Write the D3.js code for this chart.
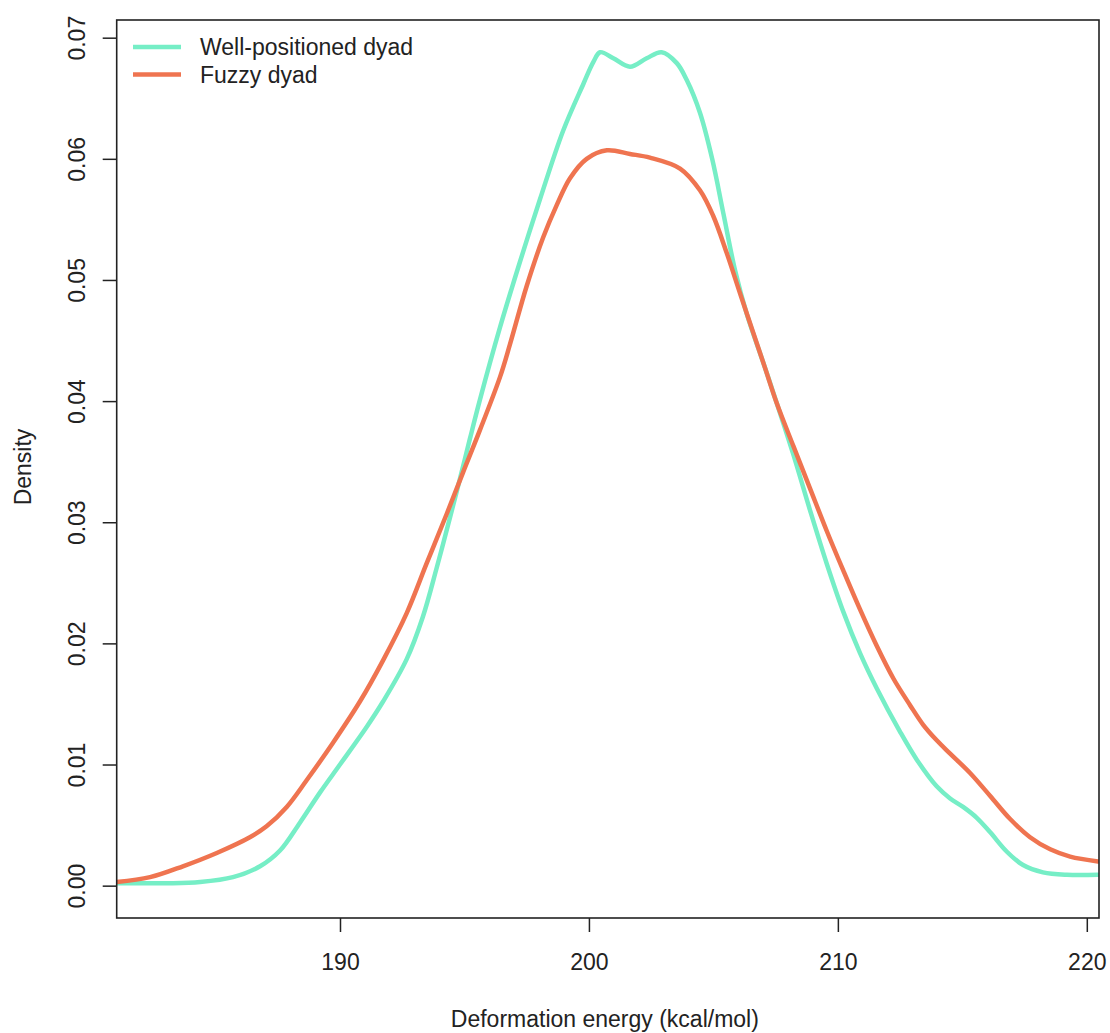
<!DOCTYPE html>
<html>
<head>
<meta charset="utf-8">
<script src="https://cdn.jsdelivr.net/npm/d3@7"></script>
<style>
  html, body { margin: 0; padding: 0; background: #fff; }
  svg { display: block; }
  text { font-family: "Liberation Sans", Arial, Helvetica, sans-serif; fill: #222; }
</style>
</head>
<body>
<svg id="chart" width="1110" height="1033"></svg>
<script>
// Kernel density estimates of deformation energy for two dyad classes
const energyWell = [181.03,183.04,184.38,185.70,186.79,187.59,188.39,189.20,190.0,191.07,191.73,192.68,193.33,193.88,194.42,194.82,195.22,195.62,196.43,197.23,198.04,198.96,199.78,200.18,200.45,200.98,201.65,202.32,202.92,203.53,203.93,204.46,204.95,205.4,205.87,206.34,207.0,207.55,208.21,208.88,209.55,210.22,210.89,211.56,212.5,213.17,213.97,214.51,215.03,215.58,216.12,216.79,217.44,218.24,219.2,220.45];
const densityWell = [0.0002,0.0002,0.0003,0.0007,0.0016,0.0029,0.0052,0.0077,0.0100,0.0131,0.0152,0.0187,0.0222,0.0262,0.0304,0.0336,0.0369,0.0401,0.0461,0.0515,0.0567,0.0623,0.0662,0.0680,0.0688,0.0683,0.0676,0.0683,0.0688,0.0679,0.0665,0.0638,0.0600,0.0555,0.0508,0.0472,0.0432,0.0398,0.0356,0.0310,0.0266,0.0226,0.0192,0.0163,0.0127,0.0104,0.0082,0.0072,0.0065,0.0056,0.0044,0.0028,0.0017,0.0011,0.0009,0.0009];

const energyFuzzy = [181.03,182.37,183.69,185.05,186.38,187.05,187.86,188.66,189.72,190.80,191.73,192.68,193.48,194.29,194.94,195.62,196.43,196.83,197.5,198.16,198.71,199.24,199.91,200.72,201.65,202.45,203.66,204.46,204.99,205.54,206.07,206.59,207.08,207.55,208.21,208.88,209.55,210.22,210.89,211.56,212.23,212.9,213.42,213.97,214.51,215.31,216.12,216.92,217.72,218.53,219.33,220.45];
const densityFuzzy = [0.0003,0.0007,0.0016,0.0027,0.0040,0.0049,0.0065,0.0087,0.0118,0.0152,0.0186,0.0225,0.0266,0.0307,0.0341,0.0376,0.0420,0.0447,0.0495,0.0535,0.0562,0.0584,0.0600,0.0607,0.0604,0.0601,0.0592,0.0574,0.0553,0.0522,0.0489,0.0457,0.0427,0.0398,0.0363,0.0328,0.0293,0.0260,0.0228,0.0198,0.0171,0.0149,0.0133,0.0120,0.0109,0.0093,0.0074,0.0055,0.0040,0.0030,0.0024,0.0020];

const seriesNames = ["Well-positioned dyad", "Fuzzy dyad"];
const seriesColors = ["#76EEC6", "#EF7450"];

const xTicks = [190, 200, 210, 220];
const yTicks = [0, 0.01, 0.02, 0.03, 0.04, 0.05, 0.06, 0.07];

const xTitle = "Deformation energy (kcal/mol)";
const yTitle = "Density";

const fontSize = 23;

// Plot region
const plot = { left: 116.7, right: 1099, top: 20, bottom: 918 };

const x = d3.scaleLinear().domain([181.03, 220.49]).range([plot.left, plot.right]);
const y = d3.scaleLinear().domain([-0.00267, 0.07146]).range([plot.bottom, plot.top]);

const svg = d3.select("#chart");

svg.append("defs").append("clipPath").attr("id", "plotClip")
  .append("rect")
  .attr("x", plot.left).attr("y", plot.top)
  .attr("width", plot.right - plot.left).attr("height", plot.bottom - plot.top);

const series = [
  { name: seriesNames[0], color: seriesColors[0], pts: energyWell.map((e, i) => [e, densityWell[i]]) },
  { name: seriesNames[1], color: seriesColors[1], pts: energyFuzzy.map((e, i) => [e, densityFuzzy[i]]) }
];

const line = d3.line()
  .x(d => x(d[0]))
  .y(d => y(d[1]))
  .curve(d3.curveCatmullRom.alpha(0.5));

svg.append("g").attr("clip-path", "url(#plotClip)")
  .selectAll("path")
  .data(series)
  .join("path")
  .attr("d", d => line(d.pts))
  .attr("fill", "none")
  .attr("stroke", d => d.color)
  .attr("stroke-width", 4.5)
  .attr("stroke-linejoin", "round")
  .attr("stroke-linecap", "round");

// Axes
const xAxis = d3.axisBottom(x).tickValues(xTicks).tickSize(14).tickPadding(22).tickFormat(d3.format("d"));
const gx = svg.append("g").attr("transform", `translate(0,${plot.bottom})`).call(xAxis);
gx.select(".domain").remove();
gx.selectAll(".tick line").attr("stroke", "#222").attr("stroke-width", 1.5);
gx.selectAll(".tick text").attr("font-size", fontSize).attr("fill", "#222")
  .attr("font-family", "'Liberation Sans', Arial, sans-serif");

const yAxis = d3.axisLeft(y).tickValues(yTicks).tickSize(14).tickFormat(d3.format(".2f"));
const gy = svg.append("g").attr("transform", `translate(${plot.left},0)`).call(yAxis);
gy.select(".domain").remove();
gy.selectAll(".tick line").attr("stroke", "#222").attr("stroke-width", 1.5);
gy.selectAll(".tick text")
  .attr("font-size", fontSize).attr("fill", "#222")
  .attr("font-family", "'Liberation Sans', Arial, sans-serif")
  .attr("text-anchor", "middle")
  .attr("dy", 0)
  .attr("x", 0).attr("y", 0)
  .attr("transform", "translate(-32,0) rotate(-90)");

// Frame
svg.append("rect")
  .attr("x", plot.left).attr("y", plot.top)
  .attr("width", plot.right - plot.left).attr("height", plot.bottom - plot.top)
  .attr("fill", "none").attr("stroke", "#222").attr("stroke-width", 1.6);

// Axis titles
svg.append("text")
  .attr("x", (plot.left + plot.right) / 2 - 3).attr("y", 1027)
  .attr("text-anchor", "middle").attr("font-size", fontSize)
  .text(xTitle);

svg.append("text")
  .attr("transform", `translate(31,${(plot.top + plot.bottom) / 2 - 2}) rotate(-90)`)
  .attr("text-anchor", "middle").attr("font-size", fontSize)
  .text(yTitle);

// Legend
const legend = svg.append("g").attr("transform", "translate(133,47)");
const item = legend.selectAll("g").data(series).join("g")
  .attr("transform", (d, i) => `translate(0,${i * 27.5})`);
item.append("line")
  .attr("x1", 0).attr("x2", 48).attr("y1", 0).attr("y2", 0)
  .attr("stroke", d => d.color).attr("stroke-width", 4.5);
item.append("text")
  .attr("x", 67).attr("y", 8)
  .attr("font-size", fontSize)
  .text(d => d.name);
</script>
</body>
</html>
